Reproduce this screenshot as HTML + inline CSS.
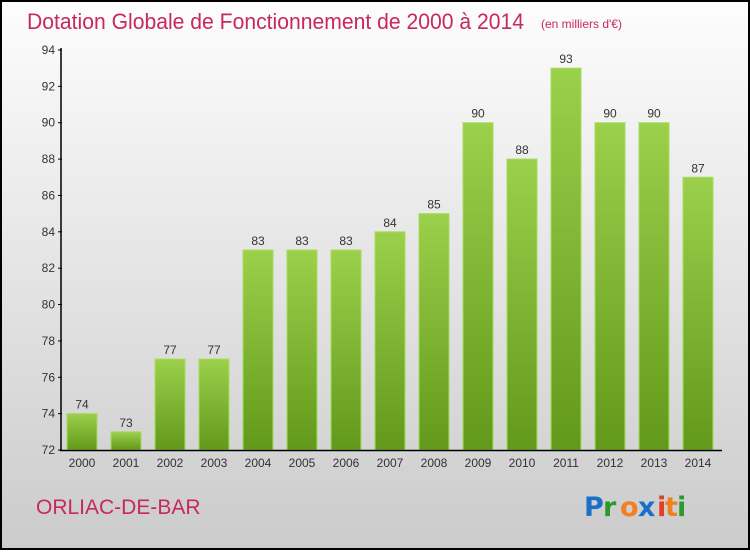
<!DOCTYPE html>
<html><head><meta charset="utf-8"><style>
body{margin:0;}
#c{width:750px;height:550px;position:relative;font-family:"Liberation Sans",sans-serif;}
</style></head><body>
<div id="c">
<svg id="s" width="750" height="550" xmlns="http://www.w3.org/2000/svg">
<defs>
<linearGradient id="bg" x1="0" y1="0" x2="0" y2="1"><stop offset="0" stop-color="#fdfdfd"/><stop offset="1" stop-color="#cbcbcb"/></linearGradient>
<linearGradient id="bar" x1="0" y1="0" x2="0" y2="1"><stop offset="0" stop-color="#9bd04c"/><stop offset="1" stop-color="#62991a"/></linearGradient>
</defs>
<rect x="1" y="1" width="748" height="548" fill="url(#bg)" stroke="#000" stroke-width="2"/>
<text x="27" y="29" font-size="22" fill="#c8285a" textLength="497" lengthAdjust="spacingAndGlyphs">Dotation Globale de Fonctionnement de 2000 à 2014</text>
<text x="541" y="28" font-size="12" fill="#c8285a">(en milliers d'€)</text>
<text x="36" y="514" font-size="21" fill="#c8285a">ORLIAC-DE-BAR</text>
<g font-size="27" font-weight="bold" font-family="'DejaVu Sans',sans-serif">
<text x="584" y="516" fill="#1a6fc9">P</text><text x="603" y="516" fill="#2a9a2a">r</text><text x="620" y="516" fill="#f08020">o</text><text x="638" y="516" fill="#1a6fc9">x</text><text x="657" y="516" fill="#e04020">i</text><text x="665" y="516" fill="#f08020">t</text><text x="677" y="516" fill="#2a9a2a">i</text>
</g>
<g id="plot"></g>
</svg>
</div>
<script>
const years=["2000","2001","2002","2003","2004","2005","2006","2007","2008","2009","2010","2011","2012","2013","2014"];
const values=[74,73,77,77,83,83,83,84,85,90,88,93,90,90,87];
const ticks=[72,74,76,78,80,82,84,86,88,90,92,94];
const NS="http://www.w3.org/2000/svg";
const g=document.getElementById('plot');
const y=v=>450-(v-72)*400/22;
const x=i=>82+i*44;
function mk(t,a){const e=document.createElementNS(NS,t);for(const k in a)e.setAttribute(k,a[k]);g.appendChild(e);return e;}
values.forEach((v,i)=>{
 const r=mk('rect',{x:x(i)-15,y:y(v),width:30,height:450-y(v),fill:'url(#bar)',stroke:'#a8dc5c','stroke-width':1});
 
 
 const t=mk('text',{x:x(i),y:y(v)-5,'text-anchor':'middle','font-size':12,fill:'#333'});t.textContent=v;
 
 
 const l=mk('text',{x:x(i),y:467,'text-anchor':'middle','font-size':12,fill:'#333'});l.textContent=years[i];
 
 
});
ticks.forEach(v=>{
 const t=mk('text',{x:55,y:y(v)+4,'text-anchor':'end','font-size':12,fill:'#333'});t.textContent=v;
 
 
 const k=mk('line',{x1:58,x2:62,y1:y(v),y2:y(v),stroke:'#000'});
 
 
});
const ya=mk('line',{x1:61,x2:61,y1:48,y2:451,stroke:'#000','stroke-width':1.5});


const xa=mk('line',{x1:60,x2:722,y1:450.5,y2:450.5,stroke:'#000','stroke-width':1.5});


</script>
</body></html>
